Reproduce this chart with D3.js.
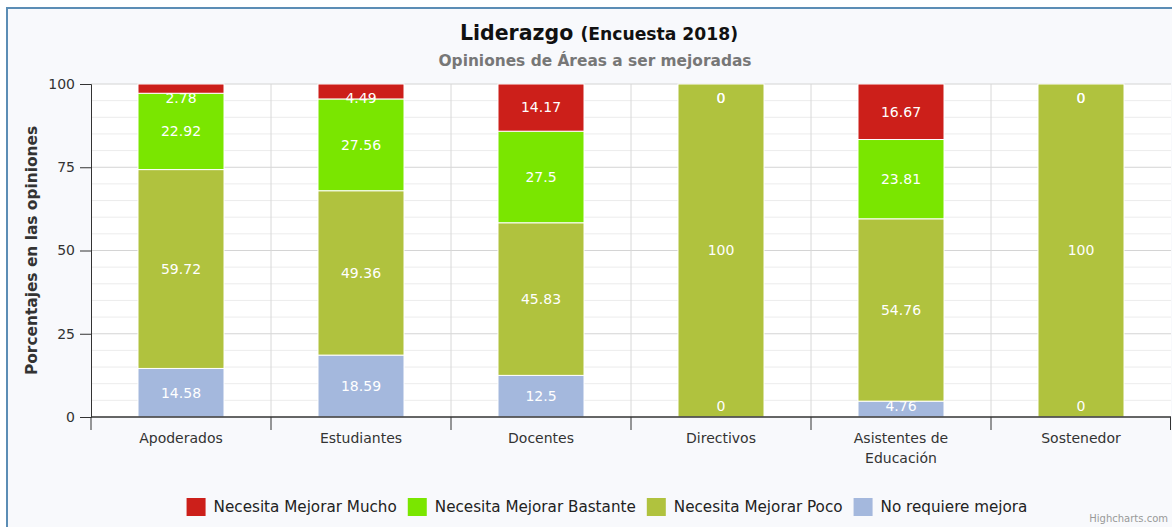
<!DOCTYPE html>
<html>
<head>
<meta charset="utf-8">
<script src="https://cdn.jsdelivr.net/npm/d3@7"></script>
<style>
  body { margin: 0; background: #fff; }
  svg { display: block; font-family: "DejaVu Sans", sans-serif; }
</style>
</head>
<body>
<svg id="chart" width="1172" height="527"></svg>
<script>
const categories = ['Apoderados', 'Estudiantes', 'Docentes', 'Directivos', 'Asistentes de Educación', 'Sostenedor'];
const seriesNames = ['Necesita Mejorar Mucho', 'Necesita Mejorar Bastante', 'Necesita Mejorar Poco', 'No requiere mejora'];
const mucho    = [2.78, 4.49, 14.17, 0, 16.67, 0];
const bastante = [22.92, 27.56, 27.5, 0, 23.81, 0];
const poco     = [59.72, 49.36, 45.83, 100, 54.76, 100];
const noReq    = [14.58, 18.59, 12.5, 0, 4.76, 0];
const yTicks = [0, 25, 50, 75, 100];
const colors = ['#cc1f1a', '#7ae600', '#b0c23e', '#a4b8dd'];

const svg = d3.select('#chart');
const pLeft = 91, pRight = 1171, pTop = 84, pBottom = 417;

// card
svg.append('rect').attr('x', 7).attr('y', 8).attr('width', 1200).attr('height', 540)
  .attr('fill', '#f8f9fc').attr('stroke', '#5b8db5').attr('stroke-width', 2);
svg.append('rect').attr('x', pLeft).attr('y', pTop).attr('width', pRight - pLeft).attr('height', pBottom - pTop)
  .attr('fill', '#fff');

const x = d3.scaleBand().domain(categories).range([pLeft, pRight]);
const y = d3.scaleLinear().domain([0, 100]).range([pBottom, pTop]);

// minor grid
svg.append('g').selectAll('line').data(d3.range(5, 100, 5).filter(v => v % 25 != 0)).join('line')
  .attr('x1', pLeft).attr('x2', pRight).attr('y1', d => y(d)).attr('y2', d => y(d))
  .attr('stroke', '#ececec').attr('stroke-width', 1);
svg.append('g').selectAll('line').data(yTicks.slice(1)).join('line')
  .attr('x1', pLeft).attr('x2', pRight).attr('y1', d => y(d)).attr('y2', d => y(d))
  .attr('stroke', '#d4d4d4').attr('stroke-width', 1);
// vertical grid at category boundaries
svg.append('g').selectAll('line').data(categories.slice(1)).join('line')
  .attr('x1', d => x(d)).attr('x2', d => x(d)).attr('y1', pTop).attr('y2', pBottom)
  .attr('stroke', '#d8d8d8').attr('stroke-width', 1);

// stacked bars
const rows = categories.map((c, i) => ({ cat: c, s0: mucho[i], s1: bastante[i], s2: poco[i], s3: noReq[i] }));
const stack = d3.stack().keys(['s3', 's2', 's1', 's0']);
const layers = stack(rows);
const barW = 86;

layers.forEach(layer => {
  const idx = 3 - layer.index;
  const g = svg.append('g');
  g.selectAll('rect').data(layer).join('rect')
    .attr('x', d => x(d.data.cat) + x.bandwidth() / 2 - barW / 2)
    .attr('y', d => y(d[1]))
    .attr('width', barW)
    .attr('height', d => Math.max(0, y(d[0]) - y(d[1])))
    .attr('fill', colors[idx])
    .attr('stroke', '#fff').attr('stroke-width', d => d[1] > d[0] ? 1 : 0);
});
layers.forEach(layer => {
  svg.append('g').selectAll('text').data(layer).join('text')
    .attr('x', d => x(d.data.cat) + x.bandwidth() / 2)
    .attr('y', d => Math.max(pTop + 14, Math.min(pBottom - 11, (y(d[0]) + y(d[1])) / 2)))
    .attr('dy', '0.35em')
    .attr('text-anchor', 'middle')
    .attr('fill', '#fff').attr('font-size', 14)
    .text(d => d.data[layer.key]);
});

// axes
const yAxis = svg.append('g').attr('transform', `translate(${pLeft},0)`)
  .call(d3.axisLeft(y).tickValues(yTicks).tickSize(11).tickPadding(5));
yAxis.select('.domain').attr('stroke', '#333');
yAxis.selectAll('.tick line').attr('stroke', '#333');
yAxis.selectAll('text').attr('font-size', 14).attr('fill', '#333').attr('font-family', 'DejaVu Sans');

const xb = svg.append('g');
xb.append('line').attr('x1', pLeft).attr('x2', pRight).attr('y1', pBottom).attr('y2', pBottom)
  .attr('stroke', '#333').attr('stroke-width', 1.5);
xb.selectAll('.tk').data(categories.concat(['end'])).join('line').attr('class', 'tk')
  .attr('x1', (d, i) => i < categories.length ? x(d) : pRight - 0.5)
  .attr('x2', (d, i) => i < categories.length ? x(d) : pRight - 0.5)
  .attr('y1', pBottom).attr('y2', pBottom + 13)
  .attr('stroke', '#333');
xb.selectAll('.lbl').data(categories).join('text').attr('class', 'lbl')
  .attr('x', d => x(d) + x.bandwidth() / 2)
  .attr('y', pBottom + 26)
  .attr('text-anchor', 'middle').attr('font-size', 14).attr('fill', '#333')
  .each(function(d) {
    const t = d3.select(this);
    const parts = d === 'Asistentes de Educación' ? ['Asistentes de', 'Educación'] : [d];
    parts.forEach((p, i) => t.append('tspan').attr('x', x(d) + x.bandwidth() / 2).attr('dy', i ? 20 : 0).text(p));
  });

// y label
svg.append('text').attr('transform', `translate(37,${(pTop + pBottom) / 2}) rotate(-90)`)
  .attr('text-anchor', 'middle').attr('font-size', 15.4).attr('font-weight', 'bold').attr('fill', '#333')
  .text('Porcentajes en las opiniones');

// titles
const title = svg.append('text').attr('x', 599).attr('y', 40).attr('text-anchor', 'middle')
  .attr('font-weight', 'bold').attr('fill', '#111');
title.append('tspan').attr('font-size', 20.5).text('Liderazgo ');
title.append('tspan').attr('font-size', 17.2).text('(Encuesta 2018)');
svg.append('text').attr('x', 595).attr('y', 66).attr('text-anchor', 'middle')
  .attr('font-size', 15.4).attr('font-weight', 'bold').attr('fill', '#777')
  .text('Opiniones de Áreas a ser mejoradas');

// legend
const leg = svg.append('g');
let lx = 0;
seriesNames.forEach((n, i) => {
  const g = leg.append('g').attr('transform', `translate(${lx},0)`);
  g.append('rect').attr('x', 0).attr('y', -9).attr('width', 19).attr('height', 18).attr('fill', colors[i]);
  const t = g.append('text').attr('x', 27).attr('y', 0).attr('dy', '0.35em')
    .attr('font-size', 15.2).attr('fill', '#222').text(n);
  lx += 27 + t.node().getComputedTextLength() + 11;
});
leg.attr('transform', `translate(${607 - (lx - 11) / 2},507)`);

svg.append('text').attr('x', 1168).attr('y', 522).attr('text-anchor', 'end')
  .attr('font-size', 10).attr('fill', '#999').text('Highcharts.com');
</script>
</body>
</html>
